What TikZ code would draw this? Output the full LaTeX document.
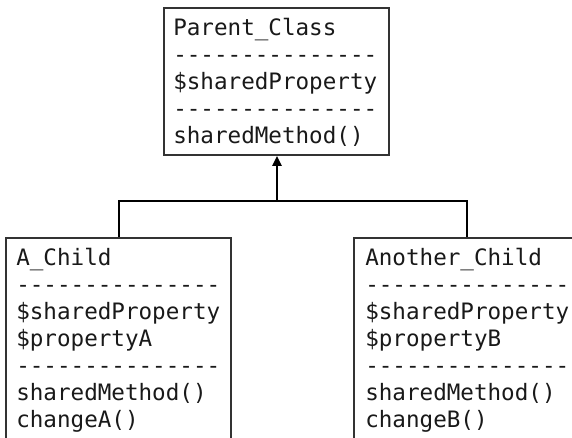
\documentclass[tikz,border=0pt]{standalone}
\usepackage{fontspec}
\newfontfamily\codefont{DejaVu Sans Mono}
\usetikzlibrary{arrows.meta}
\newcommand\dashrow{-{}-{}-{}-{}-{}-{}-{}-{}-{}-{}-{}-{}-{}-{}-}
\tikzset{
  classbox/.style={draw=black!80, line width=1.5pt, inner sep=0pt, anchor=north west,
    minimum width=168.75pt},
  classtext/.style={inner sep=0pt, anchor=north west, align=left,
    font=\codefont\fontsize{16.94pt}{20.25pt}\selectfont, text=black!90},
  conn/.style={line width=1.6pt, black},
}
\begin{document}
\begin{tikzpicture}[x=0.75pt,y=-0.75pt]
\useasboundingbox (0,0) rectangle (572,438);
\clip (0,0) rectangle (572,438);
\fill[white] (0,0) rectangle (572,438);
% boxes
\node[classbox, minimum height=110.25pt] (P) at (163,7) {};
\node[classbox, minimum height=180pt] (A) at (5,237) {};
\node[classbox, minimum height=180pt] (B) at (353,237) {};
% texts
\node[classtext] (Ptext) at (173,17.8) {Parent\_Class\\\dashrow\\\$sharedProperty\\\dashrow\\sharedMethod()};
\node[classtext] (Atext) at (16,247.8) {A\_Child\\\dashrow\\\$sharedProperty\\\$propertyA\\\dashrow\\sharedMethod()\\changeA()};
\node[classtext] (Btext) at (365,247.8) {Another\_Child\\\dashrow\\\$sharedProperty\\\$propertyB\\\dashrow\\sharedMethod()\\changeB()};
% connectors
\coordinate (jA) at (119,201);
\coordinate (jP) at (277,201);
\coordinate (jB) at (467,201);
\draw[conn] (A.north -| jA) -- (jA) -- (jB) -- (B.north -| jB);
\draw[conn, -{Triangle[length=7.5pt, width=7pt]}] (jP) -- (jP |- P.south);
\end{tikzpicture}
\end{document}
